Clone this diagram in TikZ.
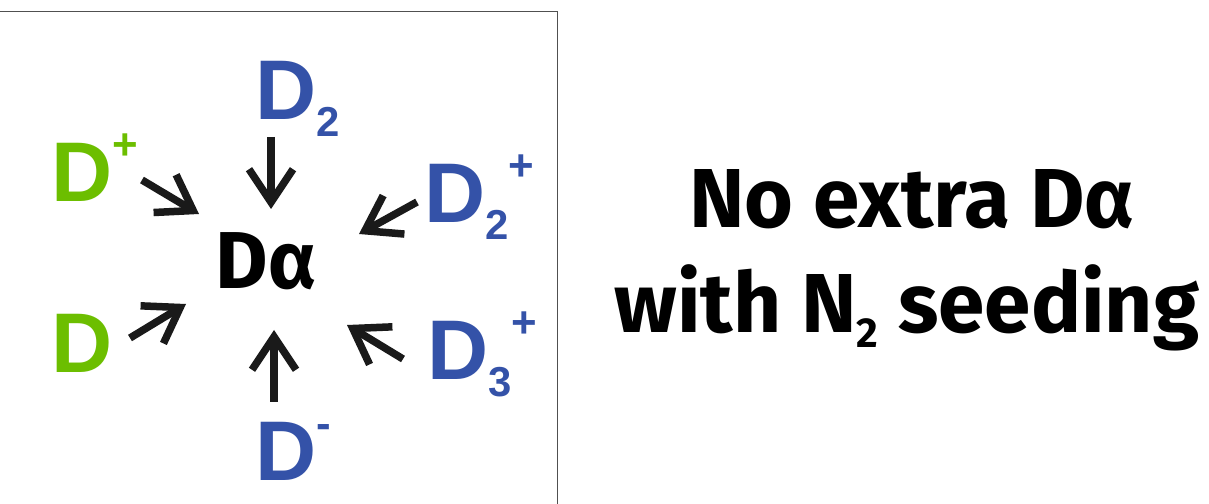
\documentclass[tikz,border=0pt]{standalone}
\usepackage{fontspec}
\setmainfont{Liberation Sans}
\newfontfamily\headfont{Fira Sans}
\usetikzlibrary{arrows.meta}
\definecolor{dgreen}{HTML}{6CBE00}
\definecolor{dblue}{HTML}{3452A8}
\definecolor{arrowink}{HTML}{1A1A1A}
\definecolor{frameink}{HTML}{505050}
% superscript / subscript helpers for the species labels
\newcommand{\lowtwo}[1]{\raisebox{-17bp}{\fontsize{42}{42}\selectfont #1}}
\newcommand{\highsign}[1]{\raisebox{42bp}{\fontsize{44}{44}\selectfont #1}}
\begin{document}
\begin{tikzpicture}[x=1bp,y=-1bp,
  species/.style={inner sep=0pt, outer sep=0pt, anchor=base west,
    font=\fontsize{85}{85}\selectfont\bfseries},
  neutral/.style={species, text=dgreen},
  ion/.style={species, text=dblue},
  centre/.style={inner sep=0pt, outer sep=0pt, anchor=base,
    font=\headfont\fontsize{81}{81}\selectfont\bfseries},
  caption/.style={inner sep=0pt, outer sep=0pt, anchor=base,
    font=\headfont\fontsize{84}{84}\selectfont\bfseries},
  inflow/.style={line width=7.5bp, draw=arrowink,
    -{Straight Barb[sharp, length=33bp, width=44bp]}},
  frame/.style={line width=1.8bp, draw=frameink}
]
\useasboundingbox (0,0) rectangle (1209,504);

% panel frame (open to the left and bottom)
\draw[frame] (-5,11.5) -- (557.5,11.5) -- (557.5,510);

% central emission line
\node[centre] (Da) at (266,289) {Dα};

% incoming species
\node[neutral] (Dp)  at (51,202)  {D\highsign{+}};
\node[neutral] (D0)  at (51,373)  {D};
\node[ion]     (D2)  at (255,120) {D\lowtwo{2}};
\node[ion]     (D2p) at (424,223) {D\lowtwo{2}\highsign{+}};
\node[ion]     (D3p) at (427,380) {D\lowtwo{3}\highsign{+}};
\node[ion]     (Dm)  at (255,480) {D\highsign{-}};

% arrow ends
\coordinate (Dp-t)  at (142,180); \coordinate (Dp-h)  at (199,214);
\coordinate (D2-t)  at (271,137); \coordinate (D2-h)  at (271,209);
\coordinate (D2p-t) at (417,202); \coordinate (D2p-h) at (359,234);
\coordinate (D0-t)  at (130,338); \coordinate (D0-h)  at (186,304);
\coordinate (Dm-t)  at (274,402); \coordinate (Dm-h)  at (274,330);
\coordinate (D3p-t) at (403,359); \coordinate (D3p-h) at (347,325);

\draw[inflow] (Dp-t) -- (Dp-h);
\draw[inflow] (D2-t) -- (D2-h);
\draw[inflow] (D2p-t) -- (D2p-h);
\draw[inflow] (D0-t) -- (D0-h);
\draw[inflow] (Dm-t) -- (Dm-h);
\draw[inflow] (D3p-t) -- (D3p-h);

% caption
\node[caption] (cap1) at (912,228) {No extra Dα};
\node[caption] (cap2) at (907,333) {with N\raisebox{-15bp}{\fontsize{42}{42}\selectfont 2} seeding};
\end{tikzpicture}
\end{document}
